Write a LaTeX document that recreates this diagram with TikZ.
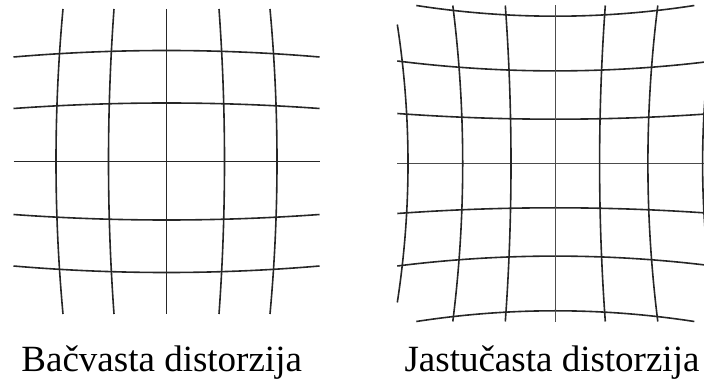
\documentclass[tikz,border=0pt]{standalone}
\usepackage{fontspec}
\setmainfont{Liberation Serif}
\usepackage{tikz}

\begin{document}
\begin{tikzpicture}[x=1pt, y=-1pt,
    gridline/.style={black!85, line width=1.6pt},
    axisline/.style={black!70, line width=1.2pt},
    caption/.style={anchor=base, inner sep=0pt, font=\fontsize{37}{40}\selectfont}]

\useasboundingbox (0,0) rectangle (704,387);
\begin{scope}
\clip (0,0) rectangle (704,387);

\draw[gridline] (13.5,57) .. controls (115.5,48.33) and (217.5,48.33) .. (319.5,57);
\draw[gridline] (13.5,108.5) .. controls (115.5,101.17) and (217.5,101.17) .. (319.5,108.5);
\draw[gridline] (13.5,161.5) -- (319.5,161.5);
\draw[gridline] (13.5,214.5) .. controls (115.5,221.83) and (217.5,221.83) .. (319.5,214.5);
\draw[gridline] (13.5,266) .. controls (115.5,274.67) and (217.5,274.67) .. (319.5,266);

\draw[gridline] (63,9) .. controls (53.67,110.67) and (53.67,212.33) .. (63,314);
\draw[gridline] (114,9) .. controls (106.67,110.67) and (106.67,212.33) .. (114,314);
\draw[gridline] (166.5,9) -- (166.5,314);
\draw[gridline] (219,9) .. controls (226.33,110.67) and (226.33,212.33) .. (219,314);
\draw[gridline] (270,9) .. controls (279.33,110.67) and (279.33,212.33) .. (270,314);

\draw[gridline] (416.3,5.5) .. controls (508.97,19.77) and (601.63,19.77) .. (694.3,5.5);
\draw[gridline] (397.3,61) .. controls (502.63,74.2) and (607.97,74.2) .. (713.3,61);
\draw[gridline] (397.3,113.5) .. controls (502.63,121.1) and (607.97,121.1) .. (713.3,113.5);
\draw[axisline] (397.3,163.5) -- (713.3,163.5);
\draw[gridline] (397.3,213.5) .. controls (502.63,205.9) and (607.97,205.9) .. (713.3,213.5);
\draw[gridline] (397.3,266) .. controls (502.63,252.8) and (607.97,252.8) .. (713.3,266);
\draw[gridline] (416.3,321.5) .. controls (508.97,307.23) and (601.63,307.23) .. (694.3,321.5);

\draw[gridline] (397.3,24.5) .. controls (411.57,117.17) and (411.57,209.83) .. (397.3,302.5);
\draw[gridline] (452.8,5.5) .. controls (466,110.83) and (466,216.17) .. (452.8,321.5);
\draw[gridline] (505.3,5.5) .. controls (512.9,110.83) and (512.9,216.17) .. (505.3,321.5);
\draw[axisline] (555.3,5.5) -- (555.3,321.5);
\draw[gridline] (605.3,5.5) .. controls (597.7,110.83) and (597.7,216.17) .. (605.3,321.5);
\draw[gridline] (657.8,5.5) .. controls (644.6,110.83) and (644.6,216.17) .. (657.8,321.5);
\draw[gridline] (713.3,24.5) .. controls (699.03,117.17) and (699.03,209.83) .. (713.3,302.5);

\end{scope}

\node[caption] (bacvasta) at (161.7,371.7) {Bačvasta distorzija};
\node[caption] (jastucasta) at (552,371.7) {Jastučasta distorzija};

\end{tikzpicture}
\end{document}
